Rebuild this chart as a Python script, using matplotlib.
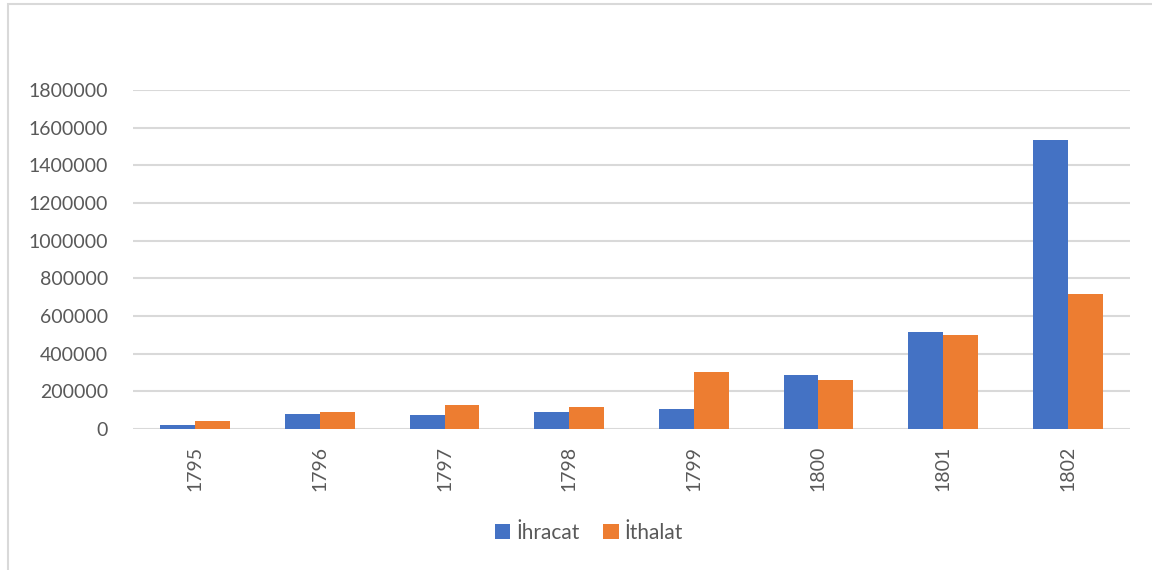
import numpy as np
import matplotlib.pyplot as plt
from matplotlib.patches import Rectangle

years = ['1795', '1796', '1797', '1798', '1799', '1800', '1801', '1802']
ihracat = [20000, 78000, 74000, 88000, 108000, 285000, 517000, 1533000]
ithalat = [41000, 89000, 126000, 115000, 301000, 262000, 498000, 717000]
yticks = [0, 200000, 400000, 600000, 800000, 1000000, 1200000, 1400000, 1600000, 1800000]

blue = '#4472C4'
orange = '#ED7D31'
grid_col = '#D9D9D9'
text_col = '#595959'

plt.rcParams['font.family'] = ['Lato', 'DejaVu Sans']

fig = plt.figure(figsize=(11.52, 5.70), dpi=100)
# chart frame, cut off at right and bottom like the reference
fig.patches.append(Rectangle((8 / 1152, -0.1), 1.2, 1 - 4 / 570 + 0.1,
                             transform=fig.transFigure, fill=False,
                             edgecolor=grid_col, linewidth=1.5))

ax = fig.add_axes([133 / 1152, 1 - 429 / 570, 997 / 1152, 339 / 570])
x = np.arange(len(years))
w = 0.28
ax.bar(x - w / 2, ihracat, w, color=blue, label='İhracat', zorder=3)
ax.bar(x + w / 2, ithalat, w, color=orange, label='İthalat', zorder=3)

ax.set_xlim(-0.5, len(years) - 0.5)
ax.set_ylim(0, 1800000)
ax.set_yticks(yticks)
ax.set_yticklabels([str(v) for v in yticks])
ax.set_xticks(x)
ax.set_xticklabels(years, rotation=90)
ax.tick_params(axis='both', length=0, labelsize=14, colors=text_col)
ax.tick_params(axis='y', pad=18)
ax.tick_params(axis='x', pad=12)
ax.grid(axis='y', color=grid_col, linewidth=1.5, zorder=0)
for s in ax.spines.values():
    s.set_visible(False)

leg = fig.legend(loc='center', bbox_to_anchor=(589 / 1152, 1 - 533 / 570), ncol=2,
                 frameon=False, fontsize=15, handlelength=0.75, handleheight=0.75,
                 handletextpad=0.3, columnspacing=1.1)
for t in leg.get_texts():
    t.set_color(text_col)

fig.savefig('out.png', dpi=100)
